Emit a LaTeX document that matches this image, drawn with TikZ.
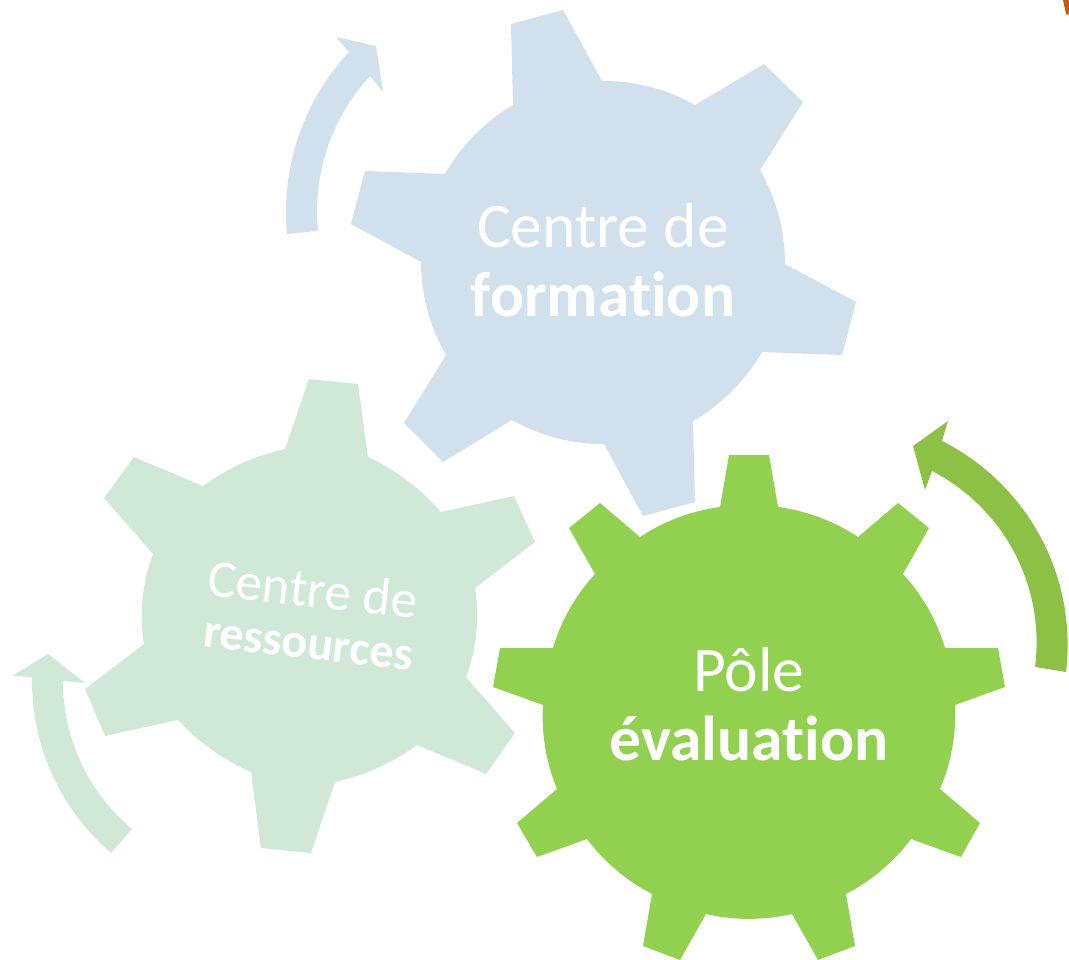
\documentclass[tikz,border=0pt]{standalone}
\usepackage{fontspec}
\setmainfont[Ligatures=NoCommon]{Carlito}
\definecolor{gearblue}{HTML}{D0E0ED}
\definecolor{gearmint}{HTML}{D0E9D7}
\definecolor{geargreen}{HTML}{92D050}
\definecolor{arrowgreen}{HTML}{8CC145}
\definecolor{sliver}{HTML}{C55A11}
\tikzset{
  rim/.style={bend left=#1,looseness=.86},
  outb/.style={bend left=#1,looseness=.9},
  outc/.style={bend right=#1,looseness=.9},
  label/.style={text=white,inner sep=0pt,align=center},
}
\begin{document}
\begin{tikzpicture}[x=1pt,y=-1pt]
\useasboundingbox (0,0) rectangle (1069,960);
% blue gear
\fill[gearblue] (513,105)--(511,24)--(563,10)--(602,81)
  to[rim=15] (695,105)--(764,64)--(803,102)--(760,170)
  to[rim=15] (785,264)--(856,302)--(842,355)--(762,352)
  to[rim=15] (693,421)--(695,502)--(643,516)--(604,444)
  to[rim=15] (512,420)--(443,462)--(404,423)--(446,355)
  to[rim=15] (421,262)--(351,224)--(365,171)--(445,174)
  to[rim=15] (513,105)--cycle;
% mint gear
\fill[gearmint] (285,449)--(309,379)--(358,384)--(368,457)
  to[rim=12] (441,512)--(514,496)--(535,542)--(475,588)
  to[rim=15] (466,677)--(515,733)--(486,774)--(417,745)
  to[rim=12] (335,782)--(311,853)--(261,848)--(251,772)
  to[rim=12] (178,720)--(105,736)--(85,689)--(144,644)
  to[rim=15] (153,554)--(104,498)--(134,457)--(203,486)
  to[rim=12] (285,449)--cycle;
% green gear
\fill[geargreen] (720,507)--(729,455)--(769,455)--(778,507)
  to[rim=13] (858,537)--(898,503)--(929,528)--(903,574)
  to[rim=13] (945,648)--(998,648)--(1005,687)--(955,705)
  to[rim=13] (940,789)--(980,823)--(961,857)--(911,839)
  to[rim=13] (846,894)--(855,946)--(818,960)--(792,914)
  to[rim=13] (706,914)--(680,960)--(643,946)--(652,894)
  to[rim=13] (587,839)--(537,857)--(517,823)--(557,789)
  to[rim=13] (543,705)--(493,687)--(500,648)--(553,648)
  to[rim=13] (595,574)--(569,528)--(600,503)--(640,537)
  to[rim=13] (720,507)--cycle;
% arrows
\fill[gearblue] (287,234) to[outb=24] (349,52)--(336,37)--(376,46)--(383,92)--(370,76)
  to[outc=24] (318,231)--cycle;
\fill[gearmint] (111,853) to[outb=25] (32,677)--(12,676)--(48,654)--(85,683)--(63,681)
  to[outc=25] (132,829)--cycle;
\fill[arrowgreen] (1066,672) to[outc=35,looseness=.94] (942,441)--(948,421)--(913,446)--(925,490)--(932,471)
  to[outb=35,looseness=.94] (1035,667)--cycle;
\fill[sliver] (1063,0)--(1069,0)--(1069,15)--(1066,14)--cycle;
% labels
\node[label,font=\fontsize{63.5}{63.5}\selectfont] (a1) at (603,226) {Centre de};
\node[label,font=\fontsize{63.5}{63.5}\selectfont\bfseries] (a2) at (603,294) {formation};
\node[label,font=\fontsize{63.5}{63.5}\selectfont] (c1) at (749,670) {Pôle};
\node[label,font=\fontsize{63.5}{63.5}\selectfont\bfseries] (c2) at (749,738) {évaluation};
\node[label,font=\fontsize{53}{53}\selectfont,rotate=-6.5] (b1) at (313,589) {Centre de};
\node[label,font=\fontsize{48}{48}\selectfont\bfseries,rotate=-6.5] (b2) at (308,647) {ressources};
\end{tikzpicture}
\end{document}
